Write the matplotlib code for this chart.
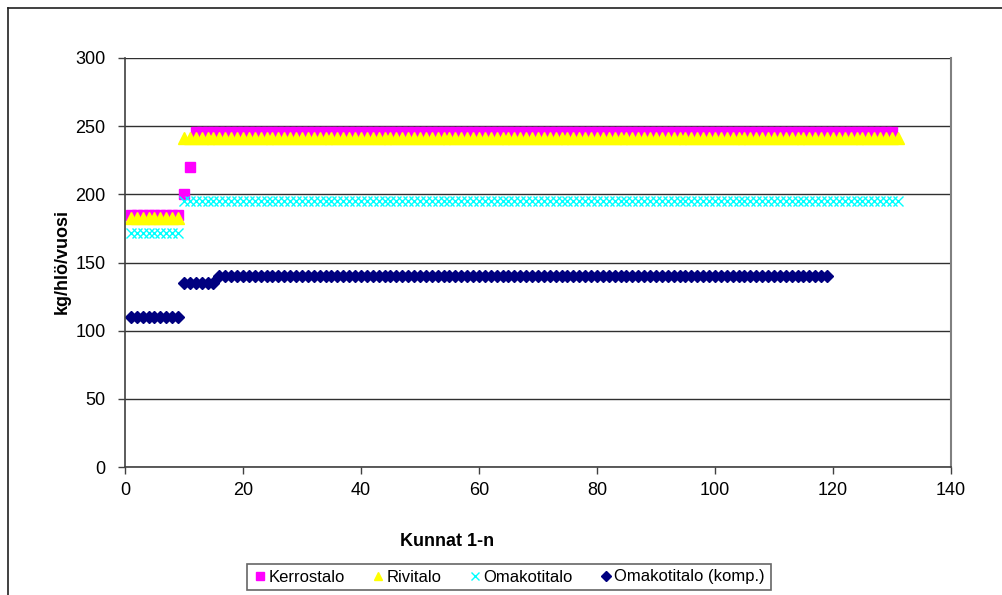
import matplotlib
matplotlib.use("Agg")
import matplotlib.pyplot as plt
from matplotlib.lines import Line2D

plt.rcParams['font.family'] = ['Liberation Sans', 'DejaVu Sans']

# values (kg/hlö/vuosi per kunta)
kerros_x = list(range(1, 131))
kerros_y = [185] * 9 + [200, 220] + [246] * 119

rivi_x = list(range(1, 132))
rivi_y = [183] * 9 + [241] * 122

omakoti_x = list(range(1, 132))
omakoti_y = [172] * 9 + [195] * 122

komp_x = list(range(1, 120))
komp_y = [110] * 9 + [135] * 6 + [140] * 104

series_labels = ["Kerrostalo", "Rivitalo", "Omakotitalo", "Omakotitalo (komp.)"]
x_ticks = [0, 20, 40, 60, 80, 100, 120, 140]
y_ticks = [0, 50, 100, 150, 200, 250, 300]

fig = plt.figure(figsize=(10.03, 5.95), dpi=100)
ax = fig.add_axes([125 / 1003, 128 / 595, 826 / 1003, 409 / 595])

ax.plot(kerros_x, kerros_y, linestyle='none', marker='s', markersize=7,
        color='#FF00FF', markeredgecolor='#FF00FF', label=series_labels[0])
ax.plot(rivi_x, rivi_y, linestyle='none', marker='^', markersize=8,
        color='#FFFF00', markeredgecolor='#FFFF00', label=series_labels[1])
ax.plot(omakoti_x, omakoti_y, linestyle='none', marker='x', markersize=7,
        markeredgewidth=1.0, color='#00FFFF', label=series_labels[2])
ax.plot(komp_x, komp_y, linestyle='none', marker='D', markersize=6,
        color='#000080', markeredgecolor='#000080', label=series_labels[3])

ax.set_xlim(0, 140)
ax.set_ylim(0, 300)
ax.set_xticks(x_ticks)
ax.set_yticks(y_ticks)
ax.tick_params(axis='both', labelsize=13, direction='out', length=5,
               color='#404040', width=1)
ax.tick_params(axis='x', pad=6)
ax.tick_params(axis='y', pad=9)

ax.grid(axis='y', color='#303030', linewidth=1)
ax.set_axisbelow(True)
for side in ['left', 'bottom']:
    ax.spines[side].set_color('#404040')
    ax.spines[side].set_linewidth(1.2)
ax.spines['top'].set_visible(False)
ax.spines['right'].set_color('#808080')
ax.spines['right'].set_linewidth(1.5)

fig.text(447 / 1003, 1 - 541 / 595, "Kunnat 1-n", fontsize=13,
         fontweight='bold', ha='center', va='center')
fig.text(62 / 1003, 1 - 262 / 595, "kg/hlö/vuosi", fontsize=13,
         fontweight='bold', ha='center', va='center', rotation=90)

leg = fig.legend(loc='center', bbox_to_anchor=(509 / 1003, 1 - 577 / 595),
                 ncol=4, fontsize=12, frameon=True, fancybox=False,
                 edgecolor='#404040', handlelength=0.8, handletextpad=0.1,
                 columnspacing=1.6, borderpad=0.35, markerscale=0.8)
leg.get_frame().set_linewidth(1.2)

# outer chart border (left and top edges visible)
fig.add_artist(Line2D([8 / 1003, 8 / 1003], [0, 1 - 8 / 595],
                      transform=fig.transFigure, color='#202020', linewidth=1.2))
fig.add_artist(Line2D([8 / 1003, 1], [1 - 8 / 595, 1 - 8 / 595],
                      transform=fig.transFigure, color='#202020', linewidth=1.2))

fig.savefig("out.png", dpi=100)
